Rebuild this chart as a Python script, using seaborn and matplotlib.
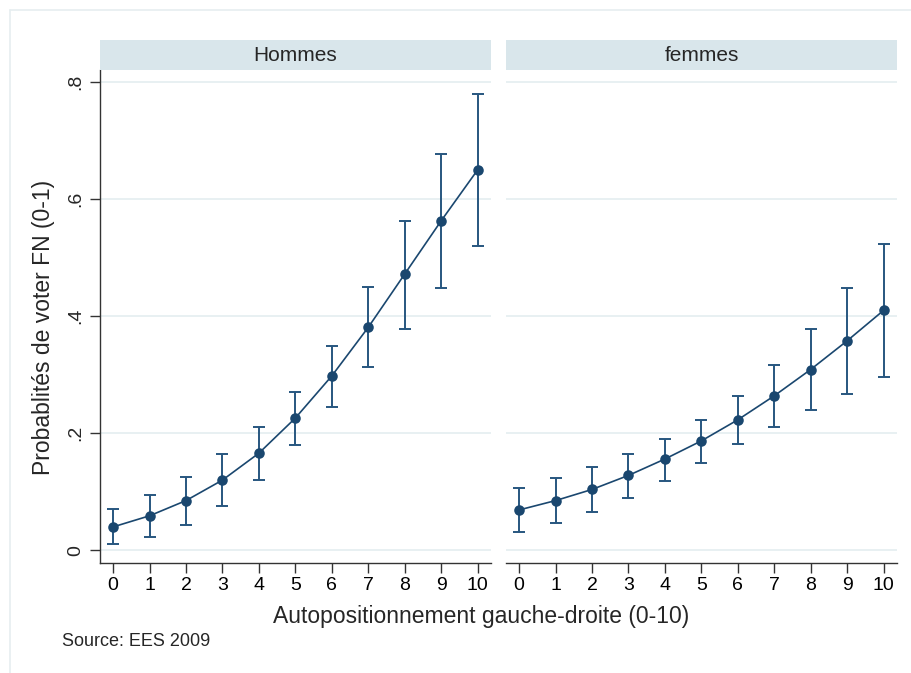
import numpy as np
import pandas as pd
import matplotlib
matplotlib.use("Agg")
import matplotlib.pyplot as plt
from matplotlib.lines import Line2D
import seaborn as sns

# ---- data -------------------------------------------------------------
positions = list(range(11))
panels = ["Hommes", "femmes"]

hommes_prob = [0.040, 0.059, 0.085, 0.120, 0.166, 0.226, 0.298, 0.381, 0.472, 0.563, 0.650]
hommes_low = [0.011, 0.023, 0.044, 0.076, 0.121, 0.180, 0.245, 0.313, 0.379, 0.449, 0.521]
hommes_high = [0.070, 0.095, 0.126, 0.164, 0.211, 0.271, 0.350, 0.450, 0.563, 0.677, 0.780]

femmes_prob = [0.069, 0.085, 0.104, 0.128, 0.156, 0.187, 0.223, 0.264, 0.309, 0.358, 0.410]
femmes_low = [0.031, 0.046, 0.065, 0.090, 0.118, 0.150, 0.181, 0.211, 0.240, 0.267, 0.296]
femmes_high = [0.107, 0.124, 0.142, 0.165, 0.191, 0.223, 0.264, 0.316, 0.379, 0.448, 0.524]

y_ticks = [0, 0.2, 0.4, 0.6, 0.8]
y_tick_labels = ["0", ".2", ".4", ".6", ".8"]

x_title = "Autopositionnement gauche-droite (0-10)"
y_title = "Probablités de voter FN (0-1)"
note = "Source: EES 2009"

df = pd.DataFrame({
    "panel": ["Hommes"] * 11 + ["femmes"] * 11,
    "x": positions + positions,
    "prob": hommes_prob + femmes_prob,
    "low": hommes_low + femmes_low,
    "high": hommes_high + femmes_high,
})

# ---- style ------------------------------------------------------------
sns.set_theme(style="white")
plt.rcParams["font.family"] = ["Liberation Sans", "DejaVu Sans"]

NAVY = "#1a476f"
BAR = "#27567f"
GRID = "#e8f0f2"
STRIP = "#d9e6eb"
AXC = "#333333"

W, H = 912, 673
fig = plt.figure(figsize=(W / 100, H / 100), dpi=100)
fig.patch.set_facecolor("white")


def rect(x0, x1, y0, y1):
    return [x0 / W, 1 - y1 / H, (x1 - x0) / W, (y1 - y0) / H]


panel_boxes = [(100, 491), (506, 897)]
axes = []
for i, (name, (x0, x1)) in enumerate(zip(panels, panel_boxes)):
    ax = fig.add_axes(rect(x0, x1, 70, 563))
    sub = df[df["panel"] == name]
    lo_err = sub["prob"].values - sub["low"].values
    hi_err = sub["high"].values - sub["prob"].values
    ax.errorbar(sub["x"], sub["prob"], yerr=[lo_err, hi_err], fmt="none",
                ecolor=BAR, elinewidth=1.4, capsize=4.2, capthick=1.4, zorder=2)
    sns.lineplot(data=sub, x="x", y="prob", ax=ax, color=NAVY, marker="o",
                 markersize=7.6, markeredgewidth=0, linewidth=1.2, zorder=3)
    ax.set_xlim(-0.36, 10.37)
    ax.set_ylim(-0.0217, 0.821)
    for yv in y_ticks:
        ax.axhline(yv, color=GRID, lw=1.4, zorder=0)
    ax.set_xticks(positions)
    ax.set_xticklabels([str(p) for p in positions], fontsize=14)
    ax.set_xlabel("")
    ax.set_ylabel("")
    for s in ["top", "right"]:
        ax.spines[s].set_visible(False)
    ax.spines["bottom"].set_color(AXC)
    ax.spines["bottom"].set_linewidth(1.0)
    ax.tick_params(axis="x", direction="out", length=7, width=1.0, color=AXC,
                   pad=3, labelcolor="black", bottom=True)
    if i == 0:
        ax.spines["left"].set_color(AXC)
        ax.spines["left"].set_linewidth(1.0)
        ax.set_yticks(y_ticks)
        ax.set_yticklabels(y_tick_labels, fontsize=14, rotation=90, va="center")
        ax.tick_params(axis="y", direction="out", length=7, width=1.0, color=AXC,
                       pad=4, left=True)
    else:
        ax.spines["left"].set_visible(False)
        ax.set_yticks(y_ticks)
        ax.tick_params(axis="y", left=False, labelleft=False)
    ax.grid(False)
    axes.append(ax)

    # strip header
    sax = fig.add_axes(rect(x0, x1, 40, 70))
    sax.set_facecolor(STRIP)
    for s in sax.spines.values():
        s.set_visible(False)
    sax.set_xticks([])
    sax.set_yticks([])
    sax.text(0.5, 0.47, name, ha="center", va="center", fontsize=15,
             transform=sax.transAxes)

# titles
fig.text(481 / W, 1 - 617 / H, x_title, ha="center", va="center", fontsize=16.5)
fig.text(44 / W, 1 - 327 / H, y_title, ha="center", va="center", fontsize=16.5,
         rotation=90)
fig.text(62 / W, 1 - 642 / H, note, ha="left", va="center", fontsize=13)

# faint outer border (graph region)
fig.add_artist(Line2D([10 / W, 10 / W], [0, 1 - 10 / H], color="#e6eef0", lw=1.2))
fig.add_artist(Line2D([10 / W, 1], [1 - 10 / H, 1 - 10 / H], color="#e6eef0", lw=1.2))

fig.savefig("out.png", dpi=100, facecolor="white")
